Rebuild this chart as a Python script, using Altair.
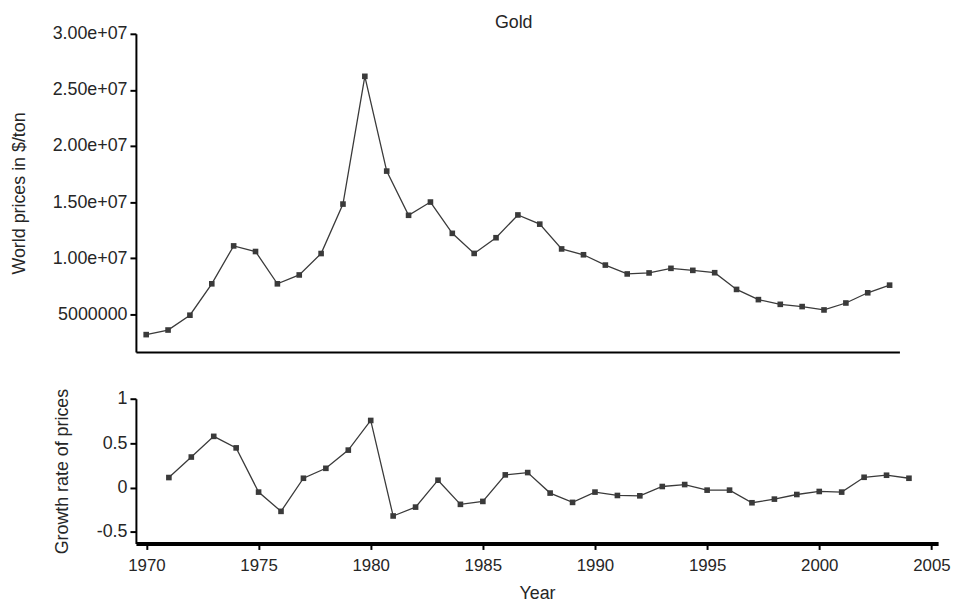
import altair as alt
import pandas as pd

# ---- data ----
years_price = list(range(1970, 2005))
prices_mil = [3.18, 3.59, 4.91, 7.71, 11.09, 10.59, 7.71, 8.50, 10.41, 14.82,
              26.21, 17.76, 13.82, 15.00, 12.21, 10.42, 11.82, 13.85, 13.03, 10.82,
              10.30, 9.38, 8.59, 8.68, 9.09, 8.91, 8.70, 7.21, 6.30, 5.88,
              5.68, 5.38, 6.00, 6.91, 7.59]

years_growth = list(range(1971, 2005))
growth = [0.112, 0.343, 0.576, 0.446, -0.052, -0.269, 0.104, 0.216, 0.421, 0.755,
          -0.321, -0.221, 0.082, -0.19, -0.157, 0.142, 0.168, -0.063, -0.168, -0.052,
          -0.09, -0.094, 0.011, 0.033, -0.03, -0.03, -0.172, -0.131, -0.079, -0.045,
          -0.052, 0.115, 0.138, 0.104]

title_text = ["Gold"]
price_ticks = [5e6, 1e7, 1.5e7, 2e7, 2.5e7, 3e7]
growth_ticks = [-0.5, 0, 0.5, 1]
year_ticks = [1970, 1975, 1980, 1985, 1990, 1995, 2000, 2005]

price_df = pd.DataFrame({"Year": years_price, "Price": [p * 1e6 for p in prices_mil]})
growth_df = pd.DataFrame({"Year": years_growth, "Growth": growth})
title_df = pd.DataFrame({"label": title_text})

FONT = "Liberation Sans, Arial, sans-serif"
INK = "#262626"
LINE = "#3a3a3a"
TOP_W, TOP_H = 770, 321
BOT_W, BOT_H = 809, 146

# ---- top panel ----
top_x = alt.X("Year:Q",
              scale=alt.Scale(domain=[1969.53, 2004.45], nice=False, zero=False),
              axis=alt.Axis(labels=False, ticks=False, title=None, domainWidth=2))
top_y = alt.Y("Price:Q",
              scale=alt.Scale(domain=[1.62e6, 3.0e7], nice=False, zero=False),
              axis=alt.Axis(values=price_ticks,
                            labelExpr="datum.value < 1e7 ? format(datum.value, 'd') : replace(format(datum.value, '.2e'), 'e+', 'e+0')",
                            title="World prices in $/ton",
                            titleX=-117, titleBaseline="middle"))
top_base = alt.Chart(price_df).encode(x=top_x, y=top_y)
title_mark = alt.Chart(title_df).mark_text(
    font=FONT, fontSize=18, color=INK, baseline="alphabetic", align="center"
).encode(text="label:N", x=alt.value(TOP_W / 2 - 4), y=alt.value(-6))
top = (top_base.mark_line(color=LINE, strokeWidth=1.3)
       + top_base.mark_point(shape="square", filled=True, size=32, color=LINE, opacity=1)
       + title_mark
       ).properties(width=TOP_W, height=TOP_H)

# ---- bottom panel ----
bot_x = alt.X("Year:Q",
              scale=alt.Scale(domain=[1969.53, 2005.3], nice=False, zero=False),
              axis=alt.Axis(values=year_ticks, format="d", title="Year",
                            domainWidth=4, labelFontSize=17, labelPadding=8.5, titlePadding=11))
bot_y = alt.Y("Growth:Q",
              scale=alt.Scale(domain=[-0.631, 1.0], nice=False, zero=False),
              axis=alt.Axis(values=growth_ticks, labelExpr="'' + datum.value",
                            title="Growth rate of prices",
                            titleX=-74, titleBaseline="middle"))
bot_base = alt.Chart(growth_df).encode(x=bot_x, y=bot_y)
bottom = (bot_base.mark_line(color=LINE, strokeWidth=1.3)
          + bot_base.mark_point(shape="square", filled=True, size=32, color=LINE, opacity=1)
          ).properties(width=BOT_W, height=BOT_H)

chart = (alt.vconcat(top, bottom, spacing=47, bounds="flush")
         .properties(padding={"left": 3, "top": 3.5, "right": 0, "bottom": 0})
         .configure_view(stroke=None)
         .configure_axis(labelFont=FONT, titleFont=FONT, labelFontSize=18, titleFontSize=18,
                         labelColor=INK, titleColor=INK, titleFontWeight="normal",
                         domainColor="black", tickColor="black", tickSize=6, tickWidth=2,
                         domainWidth=2, grid=False, labelPadding=3))

chart.save("out.html", embed_options={"renderer": "svg", "actions": False})
